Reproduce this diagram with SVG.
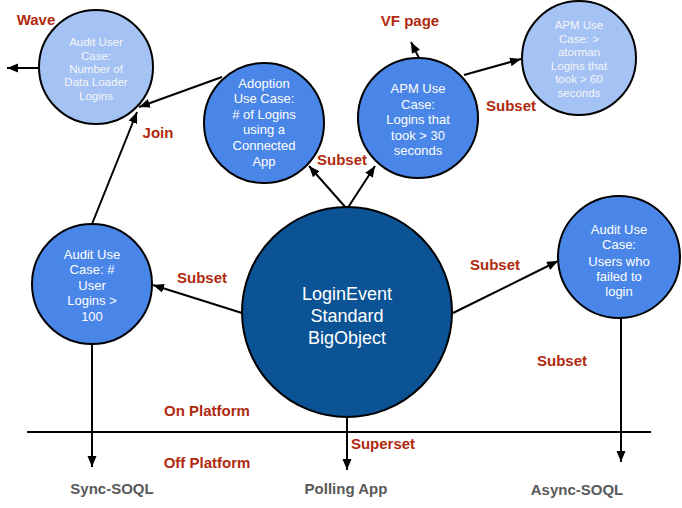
<svg xmlns="http://www.w3.org/2000/svg" width="682" height="508" viewBox="0 0 682 508">
<defs>
<marker id="ah" markerUnits="userSpaceOnUse" markerWidth="12" markerHeight="10" refX="11" refY="4.5" orient="auto">
<path d="M0,0 L11,4.5 L0,9 z" fill="#000"/>
</marker>
<style>
.c{stroke:#000;stroke-width:2}
.light{fill:#a4c2f4}
.mid{fill:#4a86e8}
.dark{fill:#0b5394}
.t{font-family:"Liberation Sans",Arial,sans-serif;text-anchor:middle}
.tl{fill:#f6f6f6;font-size:11.5px}
.tm{fill:#fff;font-size:13px}
.tb{fill:#fff;font-size:18px}
.lab{font-family:"Liberation Sans",Arial,sans-serif;font-weight:bold;font-size:15px;fill:#b02a0e;text-anchor:middle}
.out{font-family:"Liberation Sans",Arial,sans-serif;font-weight:bold;font-size:15px;fill:#595959;text-anchor:middle}
.e{stroke:#000;stroke-width:2;fill:none;marker-end:url(#ah)}
</style>
</defs>
<rect width="682" height="508" fill="#fff"/>
<g id="connectors">
<line x1="27" y1="432" x2="651" y2="432" stroke="#000" stroke-width="2"/>
<line class="e" x1="38" y1="68" x2="7" y2="68"/>
<line class="e" x1="222" y1="77" x2="139" y2="107"/>
<line class="e" x1="92" y1="224" x2="137" y2="112"/>
<line class="e" x1="347" y1="209" x2="309" y2="166"/>
<line class="e" x1="347" y1="209" x2="375" y2="166"/>
<line class="e" x1="419" y1="58" x2="411" y2="42"/>
<line class="e" x1="464" y1="75" x2="521" y2="59"/>
<line class="e" x1="242" y1="313" x2="153" y2="285"/>
<line class="e" x1="453" y1="313" x2="558" y2="261"/>
<line class="e" x1="92" y1="343" x2="92" y2="467"/>
<line class="e" x1="347" y1="416" x2="347" y2="470"/>
<line class="e" x1="621" y1="318" x2="621" y2="462"/>
</g>
<g id="node-audit-dataloader">
<circle class="c light" cx="96" cy="67" r="57"/>
<text class="t tl" x="96" y="46">Audit User</text>
<text class="t tl" x="96" y="60">Case:</text>
<text class="t tl" x="96" y="73">Number of</text>
<text class="t tl" x="96" y="86">Data Loader</text>
<text class="t tl" x="96" y="100">Logins</text>
</g>
<g id="node-adoption">
<circle class="c mid" cx="264" cy="123" r="60"/>
<text class="t tm" x="264" y="88">Adoption</text>
<text class="t tm" x="264" y="103">Use Case:</text>
<text class="t tm" x="264" y="119"># of Logins</text>
<text class="t tm" x="264" y="134">using a</text>
<text class="t tm" x="264" y="150">Connected</text>
<text class="t tm" x="264" y="166">App</text>
</g>
<g id="node-apm30">
<circle class="c mid" cx="418" cy="118" r="60"/>
<text class="t tm" x="418" y="93">APM Use</text>
<text class="t tm" x="418" y="109">Case:</text>
<text class="t tm" x="418" y="124">Logins that</text>
<text class="t tm" x="418" y="140">took &gt; 30</text>
<text class="t tm" x="418" y="155">seconds</text>
</g>
<g id="node-apm60">
<circle class="c light" cx="579" cy="58" r="57"/>
<text class="t tl" x="579" y="29">APM Use</text>
<text class="t tl" x="579" y="43">Case: &gt;</text>
<text class="t tl" x="579" y="56">atorman</text>
<text class="t tl" x="579" y="70">Logins that</text>
<text class="t tl" x="579" y="83">took &gt; 60</text>
<text class="t tl" x="579" y="97">seconds</text>
</g>
<g id="node-audit-100">
<circle class="c mid" cx="92" cy="284" r="60"/>
<text class="t tm" x="92" y="259">Audit Use</text>
<text class="t tm" x="92" y="274">Case: #</text>
<text class="t tm" x="92" y="290">User</text>
<text class="t tm" x="92" y="305">Logins &gt;</text>
<text class="t tm" x="92" y="321">100</text>
</g>
<g id="node-loginevent">
<circle class="c dark" cx="347" cy="312" r="105"/>
<text class="t tb" x="347" y="300">LoginEvent</text>
<text class="t tb" x="347" y="322">Standard</text>
<text class="t tb" x="347" y="344">BigObject</text>
</g>
<g id="node-audit-failed">
<circle class="c mid" cx="619" cy="257" r="61"/>
<text class="t tm" x="619" y="234">Audit Use</text>
<text class="t tm" x="619" y="249">Case:</text>
<text class="t tm" x="619" y="266">Users who</text>
<text class="t tm" x="619" y="281">failed to</text>
<text class="t tm" x="619" y="296">login</text>
</g>
<g id="labels">
<text class="lab" x="36" y="25">Wave</text>
<text class="lab" x="410" y="26">VF page</text>
<text class="lab" x="158" y="138">Join</text>
<text class="lab" x="511" y="111">Subset</text>
<text class="lab" x="342" y="165">Subset</text>
<text class="lab" x="202" y="283">Subset</text>
<text class="lab" x="495" y="270">Subset</text>
<text class="lab" x="562" y="366">Subset</text>
<text class="lab" x="207" y="416">On Platform</text>
<text class="lab" x="207" y="468">Off Platform</text>
<text class="lab" x="383" y="449">Superset</text>
<text class="out" x="112" y="494">Sync-SOQL</text>
<text class="out" x="346" y="494">Polling App</text>
<text class="out" x="577" y="495">Async-SOQL</text>
</g>
</svg>
